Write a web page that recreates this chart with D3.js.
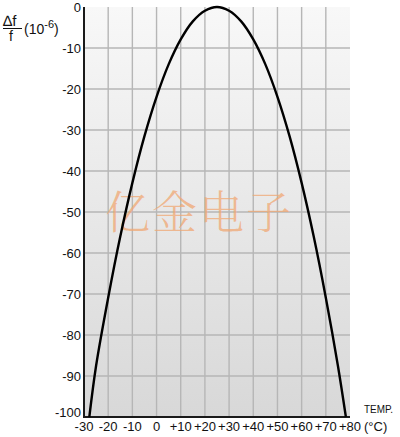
<!DOCTYPE html>
<html>
<head>
<meta charset="utf-8">
<script src="https://cdn.jsdelivr.net/npm/d3@7"></script>
<style>
  html, body { margin: 0; padding: 0; background: #fff; }
  svg { display: block; font-family: "Liberation Sans", Arial, sans-serif; }
</style>
</head>
<body>
<svg id="chart" width="400" height="437"></svg>
<script>
// temperature (°C) and frequency deviation (10^-6)
var temps = [-27.8, -25, -20, -15, -10, -5, 0, 5, 10, 15, 20, 25, 30, 35, 40, 45, 50, 55, 60, 65, 70, 75, 78.3];
var ppm = [-100, -87.5, -70.9, -56, -42.9, -31.5, -21.9, -14, -7.9, -3.5, -0.9, 0, -0.9, -3.5, -7.9, -14, -21.9, -31.5, -42.9, -56, -70.9, -87.5, -100];

var xTicks = [-30, -20, -10, 0, 10, 20, 30, 40, 50, 60, 70, 80];
var yTicks = [0, -10, -20, -30, -40, -50, -60, -70, -80, -90, -100];
var watermark = '亿金电子';

var svg = d3.select('#chart');
var box = {left: 84, right: 350, top: 7, bottom: 417};

var x = d3.scaleLinear().domain([-30, 80]).range([box.left, box.right]);
var y = d3.scaleLinear().domain([0, -100]).range([box.top, box.bottom]);

// plot background, light at top and darker at the bottom
var grad = svg.append('defs').append('linearGradient')
    .attr('id', 'bg').attr('x1', 0).attr('y1', 0).attr('x2', 0).attr('y2', 1);
grad.append('stop').attr('offset', '0%').attr('stop-color', '#f8f8f8');
grad.append('stop').attr('offset', '100%').attr('stop-color', '#d8d8d8');

svg.append('rect')
  .attr('x', box.left).attr('y', box.top)
  .attr('width', box.right - box.left).attr('height', box.bottom - box.top)
  .attr('fill', 'url(#bg)');

// grid
var grid = svg.append('g').attr('stroke', '#b6b6b6').attr('stroke-width', 1.4);
grid.selectAll('.vg')
  .data(xTicks.filter(d => d > -30 && d < 80))
  .enter().append('line')
    .attr('class', 'vg')
    .attr('x1', d => x(d)).attr('x2', d => x(d))
    .attr('y1', box.top).attr('y2', box.bottom);
grid.selectAll('.hg')
  .data(yTicks.filter(d => d < 0 && d > -100))
  .enter().append('line')
    .attr('class', 'hg')
    .attr('x1', box.left).attr('x2', box.right)
    .attr('y1', d => y(d)).attr('y2', d => y(d));

// watermark
svg.append('text')
  .attr('x', 199).attr('y', 229)
  .attr('text-anchor', 'middle')
  .attr('font-family', '"Noto Serif CJK SC", "Noto Sans CJK SC", serif')
  .attr('font-weight', 300)
  .attr('font-size', 45)
  .attr('letter-spacing', 2)
  .attr('fill', '#f0a874')
  .attr('fill-opacity', 0.75)
  .text(watermark);

// axes lines
svg.append('line')
  .attr('x1', box.left).attr('x2', box.left)
  .attr('y1', box.top).attr('y2', box.bottom + 1)
  .attr('stroke', '#1a1a1a').attr('stroke-width', 2);
svg.append('line')
  .attr('x1', box.left - 1).attr('x2', box.right)
  .attr('y1', box.bottom).attr('y2', box.bottom)
  .attr('stroke', '#1a1a1a').attr('stroke-width', 2);

// curve
var pts = d3.zip(temps, ppm);
svg.append('path')
  .datum(pts)
  .attr('fill', 'none')
  .attr('stroke', '#000')
  .attr('stroke-width', 2.4)
  .attr('d', d3.line().x(d => x(d[0])).y(d => y(d[1])).curve(d3.curveCatmullRom));

// tick labels (bottom one lifted a little to clear the x labels)
svg.selectAll('.yl')
  .data(yTicks)
  .enter().append('text')
    .attr('class', 'yl')
    .attr('x', 81).attr('y', d => y(d) + 5 - (d === -100 ? 5 : 0))
    .attr('text-anchor', 'end')
    .attr('font-size', 13)
    .attr('fill', '#111')
    .text(d => d);

svg.selectAll('.xl')
  .data(xTicks)
  .enter().append('text')
    .attr('class', 'xl')
    .attr('x', d => x(d)).attr('y', 431)
    .attr('text-anchor', 'middle')
    .attr('font-size', 13)
    .attr('fill', '#111')
    .text(d => d > 0 ? '+' + d : d);

// axis titles
svg.append('text')
  .attr('x', 364).attr('y', 413)
  .attr('font-size', 11).attr('textLength', 29).attr('lengthAdjust', 'spacingAndGlyphs')
  .attr('fill', '#111')
  .text('TEMP.');
svg.append('text')
  .attr('x', 364).attr('y', 431)
  .attr('font-size', 13)
  .attr('fill', '#111')
  .text('(°C)');

var yt = svg.append('g').attr('fill', '#111');
yt.append('text').attr('x', 3).attr('y', 26).attr('font-size', 15).text('∆f');
yt.append('line')
  .attr('x1', 3).attr('x2', 22).attr('y1', 28.5).attr('y2', 28.5)
  .attr('stroke', '#111').attr('stroke-width', 1);
yt.append('text').attr('x', 9).attr('y', 41).attr('font-size', 14).text('f');
var unit = yt.append('text').attr('x', 24).attr('y', 34).attr('font-size', 14);
unit.append('tspan').text('(10');
unit.append('tspan').attr('dy', -6).attr('font-size', 11).text('-6');
unit.append('tspan').attr('dy', 6).text(')');
</script>
</body>
</html>
